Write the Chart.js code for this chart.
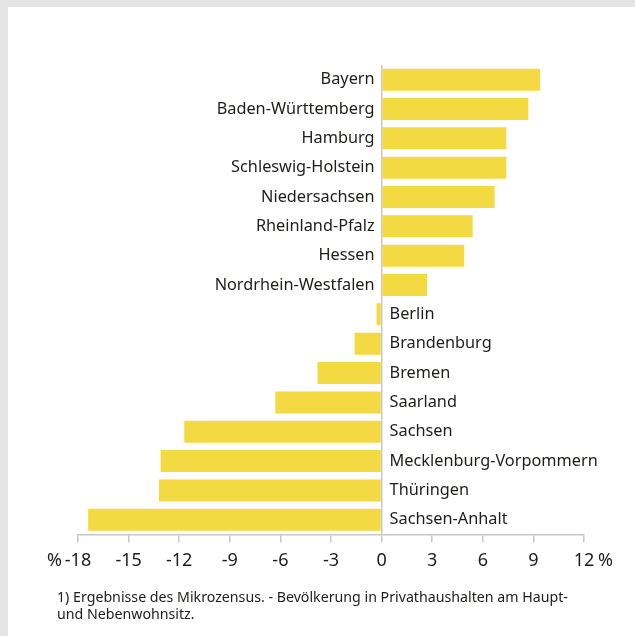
<!DOCTYPE html>
<html lang="de">
<head>
<meta charset="utf-8">
<script src="https://cdn.jsdelivr.net/npm/chart.js@4.4.1/dist/chart.umd.min.js"></script>
<style>
  html, body { margin: 0; padding: 0; }
  body { width: 635px; height: 636px; background: #e4e4e4; position: relative; overflow: hidden; }
  .panel { position: absolute; left: 8px; top: 7px; right: 0; bottom: 0; background: #fff; }
  #wrap { position: absolute; left: 0; top: 0; width: 635px; height: 636px; }
  .note {
    position: absolute; left: 57px; top: 588px; width: 560px;
    font-family: "Noto Sans", sans-serif; font-size: 14.2px; line-height: 17px; color: #1d1d1b;
  }
</style>
</head>
<body>
<div class="panel"></div>
<div id="wrap"><canvas id="chart" width="635" height="636"></canvas></div>
<div class="note">1) Ergebnisse des Mikrozensus. - Bevölkerung in Privathaushalten am Haupt-<br>und Nebenwohnsitz.</div>
<script>
// Veränderung der Bevölkerung in %, nach Bundesländern
const states = [
  'Bayern', 'Baden-Württemberg', 'Hamburg', 'Schleswig-Holstein', 'Niedersachsen',
  'Rheinland-Pfalz', 'Hessen', 'Nordrhein-Westfalen', 'Berlin', 'Brandenburg',
  'Bremen', 'Saarland', 'Sachsen', 'Mecklenburg-Vorpommern', 'Thüringen', 'Sachsen-Anhalt'
];
const change = [9.4, 8.7, 7.4, 7.4, 6.7, 5.4, 4.9, 2.7, -0.3, -1.6, -3.8, -6.3, -11.7, -13.1, -13.2, -17.4];
const axisMin = -18;
const axisMax = 12;
const axisStep = 3;
const unitLabel = '%';

const FONT = '"Noto Sans", sans-serif';
const TEXT = '#1d1d1b';
const LINE = '#c8c8c8';

// Ländernamen links bzw. rechts der Nulllinie, plus die %-Zeichen am Achsenende
const sideLabels = {
  id: 'sideLabels',
  afterDatasetsDraw(chart) {
    const ctx = chart.ctx;
    const x = chart.scales.x;
    const zero = x.getPixelForValue(0);
    const bars = chart.getDatasetMeta(0).data;
    ctx.save();
    ctx.font = '16.3px ' + FONT;
    ctx.fillStyle = TEXT;
    ctx.textBaseline = 'middle';
    bars.forEach((bar, i) => {
      if (change[i] >= 0) {
        ctx.textAlign = 'right';
        ctx.fillText(states[i], zero - 7, bar.y);
      } else {
        ctx.textAlign = 'left';
        ctx.fillText(states[i], zero + 8, bar.y);
      }
    });
    // gleiche Höhe wie die Zahlen an der Achse
    const ty = x.bottom - (x.bottom - x.top - 8 - 8) / 2 - 4;
    ctx.font = '18px ' + FONT;
    ctx.textAlign = 'right';
    ctx.fillText(unitLabel, x.getPixelForValue(axisMin) - 16, ty);
    ctx.textAlign = 'left';
    ctx.fillText(unitLabel, x.getPixelForValue(axisMax) + 14, ty);
    ctx.restore();
  }
};

new Chart(document.getElementById('chart'), {
  type: 'bar',
  data: {
    labels: states,
    datasets: [{
      data: change,
      backgroundColor: '#f4da42',
      borderWidth: 0,
      categoryPercentage: 1,
      barPercentage: 0.75
    }]
  },
  options: {
    indexAxis: 'y',
    responsive: false,
    animation: false,
    layout: { padding: { left: 78, right: 51, top: 65, bottom: 56 } },
    plugins: { legend: { display: false }, tooltip: { enabled: false } },
    scales: {
      x: {
        min: axisMin,
        max: axisMax,
        ticks: { stepSize: axisStep, color: TEXT, font: { family: FONT, size: 18 }, padding: 8 },
        grid: {
          drawOnChartArea: true,
          color: c => (c.tick && c.tick.value === 0 ? LINE : 'rgba(0,0,0,0)'),
          tickColor: LINE,
          tickLength: 8,
          lineWidth: 1.5
        },
        border: { color: LINE, width: 1.5 }
      },
      y: { display: false }
    }
  },
  plugins: [sideLabels]
});
</script>
</body>
</html>
